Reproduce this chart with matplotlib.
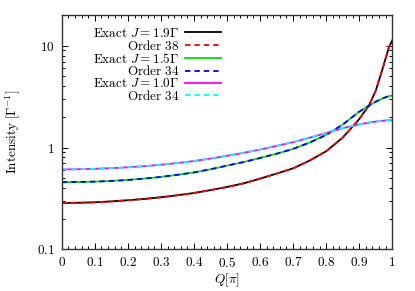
import numpy as np
import matplotlib
matplotlib.use("Agg")
import matplotlib.pyplot as plt
from matplotlib.ticker import MultipleLocator, LogLocator, NullFormatter

plt.rcParams['mathtext.fontset'] = 'cm'
plt.rcParams['font.family'] = 'serif'
plt.rcParams['font.serif'] = ['DejaVu Serif']

# momentum Q in units of pi
q = [0.0, 0.05, 0.1, 0.15, 0.2, 0.25, 0.3, 0.35, 0.4, 0.45, 0.5, 0.55,
     0.6, 0.65, 0.7, 0.75, 0.8, 0.85, 0.9, 0.93, 0.95, 0.97, 0.98, 0.99, 1.0]

# J = 1.9 Gamma
exact_19 = [0.286, 0.287, 0.290, 0.296, 0.304, 0.313, 0.325, 0.340, 0.358, 0.382, 0.410,
            0.445, 0.495, 0.555, 0.625, 0.745, 0.920, 1.25, 1.90, 2.60, 3.60, 5.80, 7.50,
            9.6, 11.3]
order38 = exact_19

# J = 1.5 Gamma
exact_15 = [0.457, 0.459, 0.463, 0.470, 0.481, 0.496, 0.515, 0.540, 0.570, 0.612, 0.665,
            0.720, 0.790, 0.870, 0.970, 1.12, 1.33, 1.68, 2.25, 2.58, 2.82, 3.03, 3.12,
            3.20, 3.24]
order34_15 = exact_15

# J = 1.0 Gamma
exact_10 = [0.610, 0.613, 0.619, 0.628, 0.640, 0.657, 0.678, 0.705, 0.738, 0.780, 0.830,
            0.888, 0.955, 1.04, 1.13, 1.25, 1.39, 1.55, 1.69, 1.76, 1.80, 1.83, 1.845,
            1.855, 1.86]
order34_10 = exact_10

fig = plt.figure(figsize=(4.15, 2.91), dpi=100)
ax = fig.add_axes([0.149, 0.143, 0.796, 0.805])

lw = 1.3
dash = (0, (3.0, 2.2))
ax.plot(q, exact_19, color='black', lw=lw, label=r'$\mathrm{Exact}\ J=1.9\Gamma$')
ax.plot(q, order38, color='#ff0000', lw=lw, ls=dash, label=r'$\mathrm{Order\ 38}$')
ax.plot(q, exact_15, color='#00dd00', lw=lw, label=r'$\mathrm{Exact}\ J=1.5\Gamma$')
ax.plot(q, order34_15, color='#0000ff', lw=lw, ls=dash, label=r'$\mathrm{Order\ 34}$')
ax.plot(q, exact_10, color='#ff00ff', lw=lw, label=r'$\mathrm{Exact}\ J=1.0\Gamma$')
ax.plot(q, order34_10, color='#00ffff', lw=lw, ls=dash, label=r'$\mathrm{Order\ 34}$')

ax.set_yscale('log')
ax.set_xlim(0, 1)
ax.set_ylim(0.1, 20)

xt = [0, 0.1, 0.2, 0.3, 0.4, 0.5, 0.6, 0.7, 0.8, 0.9, 1]
xl = ['0', '0.1', '0.2', '0.3', '0.4', '0.5', '0.6', '0.7', '0.8', '0.9', '1']
ax.set_xticks(xt)
ax.set_xticklabels(['$\\mathrm{%s}$' % s for s in xl], fontsize=9.5)
ax.xaxis.set_minor_locator(MultipleLocator(0.02))
ax.set_yticks([0.1, 1, 10])
ax.set_yticklabels([r'$\mathrm{0.1}$', r'$\mathrm{1}$', r'$\mathrm{10}$'], fontsize=9.5)
ax.yaxis.set_minor_locator(LogLocator(base=10, subs=np.arange(2, 10)))
ax.yaxis.set_minor_formatter(NullFormatter())

ax.tick_params(which='both', direction='in', top=True, right=True, width=0.7)
ax.tick_params(which='major', length=4, pad=5)
ax.tick_params(which='minor', length=2)
for s in ax.spines.values():
    s.set_linewidth(1.0)
    s.set_color('#333333')

ax.set_xlabel(r'$Q[\pi]$', fontsize=9.5, labelpad=1)
ax.set_ylabel(r'$\mathrm{Intensity}\ [\Gamma^{-1}]$', fontsize=9.5, labelpad=11)

ax.legend(loc='upper right', bbox_to_anchor=(221 / 415, 1 - 27 / 291),
          bbox_transform=fig.transFigure, frameon=False,
          markerfirst=False, fontsize=9.5, handlelength=2.7, labelspacing=-0.09,
          handletextpad=0.45, borderaxespad=0.0, borderpad=0.0)

fig.savefig('out.png', dpi=100)
